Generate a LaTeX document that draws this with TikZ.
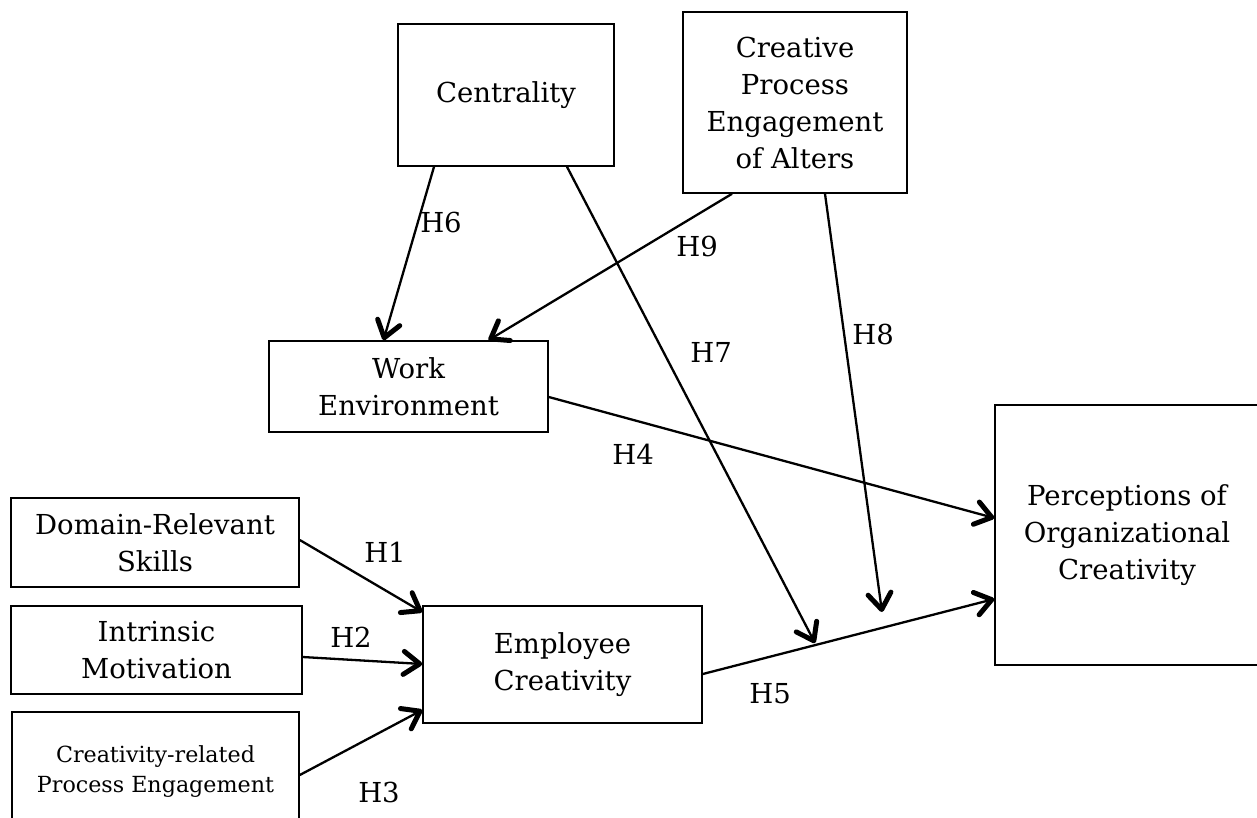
\documentclass[tikz,border=0pt]{standalone}
\usepackage{fontspec}
\setmainfont{DejaVu Serif}
\usepackage{tikz}
\usetikzlibrary{arrows.meta, positioning}

\begin{document}
\begin{tikzpicture}[
    x=1pt, y=-1pt,
    every node/.style={font=\fontsize{27.5}{37}\selectfont},
    box/.style={rectangle, draw, line width=1.6pt, align=center, inner sep=0pt},
    small/.style={font=\fontsize{22.2}{30}\selectfont},
    hyp/.style={inner sep=0pt},
    arrow/.style={-{Straight Barb[length=16pt,width=23pt,line width=5pt,round]}, line width=2.3pt}
]
    \clip (0,0) rectangle (1257,817);

    % Nodes
    \node[box, minimum width=216, minimum height=142] (cent) at (506,95) {Centrality};
    \node[box, minimum width=224, minimum height=181] (alters) at (795,102.5) {Creative\\Process\\Engagement\\of Alters};
    \node[box, minimum width=279, minimum height=91] (work) at (408.5,386.5) {Work\\Environment};
    \node[box, minimum width=264, minimum height=260] (percep) at (1127,535) {Perceptions of\\Organizational\\Creativity};
    \node[box, minimum width=288, minimum height=89] (domain) at (155,542.5) {Domain-Relevant\\Skills};
    \node[box, minimum width=291, minimum height=88] (intrinsic) at (156.5,650) {Intrinsic\\Motivation};
    \node[box, small, minimum width=287, minimum height=120] (crproc) at (155.5,772) {Creativity-related\\Process Engagement};
    \node[box, minimum width=279, minimum height=117] (employee) at (562.5,664.5) {Employee\\Creativity};

    % Free ends on the H5 path
    \coordinate (h7end) at (815,643);
    \coordinate (h8end) at (882,612);

    % Arrows
    \draw[arrow] ([xshift=-72pt]cent.south) -- ([xshift=-25pt]work.north);
    \draw[arrow] ([xshift=-63pt]alters.south) -- ([xshift=80pt]work.north);
    \draw[arrow] ([xshift=61pt]cent.south) -- (h7end);
    \draw[arrow] ([xshift=30pt]alters.south) -- (h8end);
    \draw[arrow] ([yshift=-10.5pt]work.east) -- ([yshift=17pt]percep.west);
    \draw[arrow] ([yshift=-9.5pt]employee.east) -- ([yshift=-64pt]percep.west);
    \draw[arrow] ([yshift=2.5pt]domain.east) -- ([yshift=52.5pt]employee.west);
    \draw[arrow] ([yshift=-7pt]intrinsic.east) -- ([yshift=0.5pt]employee.west);
    \draw[arrow] ([yshift=-3pt]crproc.east) -- ([yshift=-45.5pt]employee.west);

    % Labels
    \node[hyp] (h1) at (385,552) {H1};
    \node[hyp] (h2) at (351,637) {H2};
    \node[hyp] (h3) at (379,792) {H3};
    \node[hyp] (h4) at (633,454) {H4};
    \node[hyp] (h5) at (770,694) {H5};
    \node[hyp] (h6) at (441,222) {H6};
    \node[hyp] (h7) at (711,352) {H7};
    \node[hyp] (h8) at (873,334) {H8};
    \node[hyp] (h9) at (697,246) {H9};
\end{tikzpicture}
\end{document}
